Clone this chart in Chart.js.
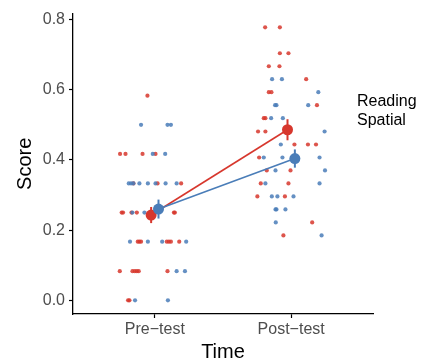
<!DOCTYPE html>
<html>
<head>
<meta charset="utf-8">
<script src="https://cdn.jsdelivr.net/npm/chart.js@4.4.1/dist/chart.umd.min.js"></script>
<style>
  html, body { margin: 0; padding: 0; background: #fff; }
</style>
</head>
<body>
<canvas id="scoreChart" width="428" height="364"></canvas>
<script>
// categories / labels
const timeLabels = ['Pre\u2212test', 'Post\u2212test'];
const groupNames = ['Reading', 'Spatial'];
const yTicks = [0, 0.2, 0.4, 0.6, 0.8];

// individual scores (jitter = horizontal offset from the category)
const readingPreScore = [0.583,
  0.417, 0.417, 0.417, 0.417,
  0.333, 0.333, 0.333,
  0.25, 0.25, 0.25, 0.25, 0.25, 0.25,
  0.167, 0.167, 0.167, 0.167, 0.167, 0.167, 0.167,
  0.083, 0.083, 0.083, 0.083, 0.083, 0.083,
  0, 0];
const readingPreJitter = [-0.054,
  -0.255, -0.215, -0.090, 0.005,
  -0.157, 0.020, 0.193,
  -0.243, -0.233, -0.171, -0.132, 0.140, 0.147,
  -0.125, -0.113, -0.101, 0.088, 0.103, 0.118, 0.179,
  -0.257, -0.164, -0.147, -0.132, -0.118, 0.093,
  -0.196, -0.186];

const spatialPreScore = [0.5, 0.5, 0.5,
  0.417, 0.417,
  0.333, 0.333, 0.333, 0.333, 0.333, 0.333, 0.333, 0.333,
  0.25, 0.25,
  0.167, 0.167, 0.167, 0.167,
  0.083, 0.083,
  0, 0];
const spatialPreJitter = [-0.101, 0.093, 0.118,
  -0.015, 0.076,
  -0.191, -0.174, -0.157, -0.113, -0.051, 0.005, 0.079, 0.160,
  -0.164, -0.076,
  -0.182, -0.051, 0.054, 0.230,
  0.160, 0.221,
  -0.145, 0.096];

const readingPostScore = [0.778, 0.778,
  0.704, 0.704,
  0.667, 0.667,
  0.630,
  0.593, 0.593,
  0.556,
  0.519, 0.519,
  0.481, 0.481,
  0.444, 0.444, 0.444,
  0.407,
  0.370, 0.370,
  0.333, 0.333,
  0.296, 0.296,
  0.222,
  0.185];
const readingPostJitter = [-0.191, -0.083,
  -0.083, -0.020,
  -0.164, -0.086,
  0.110,
  -0.164, -0.145,
  0.189,
  -0.201, -0.189,
  -0.243, -0.189,
  0.024, 0.123, 0.182,
  -0.235,
  -0.179, -0.005,
  -0.223, -0.020,
  -0.248, -0.046,
  0.154,
  -0.057];

const spatialPostScore = [0.630, 0.630,
  0.593,
  0.556, 0.556, 0.556,
  0.519, 0.519,
  0.481,
  0.444,
  0.407, 0.407, 0.407,
  0.370, 0.370,
  0.333, 0.333,
  0.296, 0.296, 0.296,
  0.259, 0.259, 0.259,
  0.222,
  0.185];
const spatialPostJitter = [-0.140, -0.068,
  0.199,
  -0.118, -0.108, 0.125,
  -0.147, -0.061,
  0.245,
  -0.076,
  -0.201, -0.064, 0.208,
  -0.115, 0.248,
  -0.189, 0.208,
  -0.142, -0.101, 0.017,
  -0.115, -0.108, -0.042,
  -0.113,
  0.223];

// group means and standard errors (Pre, Post)
const readingMean = [0.243, 0.486];
const readingSE = [0.023, 0.030];
const spatialMean = [0.260, 0.404];
const spatialSE = [0.027, 0.026];
const dodge = 0.027;

const redColor = '#d7372d';
const blueColor = '#4a7db8';

function jittered(scores, jitter, category) {
  return scores.map((v, i) => ({ x: category + jitter[i], y: v }));
}

function meanPoints(means, shift) {
  return means.map((v, i) => ({ x: i + 1 + shift, y: v }));
}

// vertical error bars drawn just before the mean points
const errorBars = {
  id: 'errorBars',
  beforeDatasetDraw(chart, args) {
    const ds = chart.data.datasets[args.index];
    if (!ds.errors) return;
    const xs = chart.scales.x, ys = chart.scales.y;
    const ctx = chart.ctx;
    ctx.save();
    ctx.strokeStyle = ds.borderColor;
    ctx.lineWidth = 2;
    ds.data.forEach((p, i) => {
      const px = xs.getPixelForValue(p.x);
      ctx.beginPath();
      ctx.moveTo(px, ys.getPixelForValue(p.y - ds.errors[i]));
      ctx.lineTo(px, ys.getPixelForValue(p.y + ds.errors[i]));
      ctx.stroke();
    });
    ctx.restore();
  }
};

// ggplot style legend: labels only, no keys
const textLegend = {
  id: 'textLegend',
  afterDraw(chart) {
    const ctx = chart.ctx;
    ctx.save();
    ctx.fillStyle = '#000';
    ctx.font = '16px "Liberation Sans", Arial, sans-serif';
    ctx.textBaseline = 'middle';
    groupNames.forEach((name, i) => {
      ctx.fillText(name, chart.chartArea.right - 16, 102 + i * 19);
    });
    ctx.restore();
  }
};

const fontFamily = '"Liberation Sans", Arial, sans-serif';

new Chart(document.getElementById('scoreChart'), {
  type: 'scatter',
  data: {
    datasets: [
      {
        label: groupNames[0] + ' scores',
        data: jittered(readingPreScore, readingPreJitter, 1)
          .concat(jittered(readingPostScore, readingPostJitter, 2)),
        backgroundColor: 'rgba(215, 55, 45, 0.85)',
        borderWidth: 0,
        pointRadius: 2.1,
        order: 4
      },
      {
        label: groupNames[1] + ' scores',
        data: jittered(spatialPreScore, spatialPreJitter, 1)
          .concat(jittered(spatialPostScore, spatialPostJitter, 2)),
        backgroundColor: 'rgba(74, 125, 184, 0.85)',
        borderWidth: 0,
        pointRadius: 2.1,
        order: 3
      },
      {
        label: groupNames[0],
        data: meanPoints(readingMean, -dodge),
        errors: readingSE,
        showLine: true,
        borderColor: redColor,
        backgroundColor: redColor,
        borderWidth: 1.6,
        pointRadius: 5.5,
        pointBorderWidth: 0,
        order: 2
      },
      {
        label: groupNames[1],
        data: meanPoints(spatialMean, dodge),
        errors: spatialSE,
        showLine: true,
        borderColor: blueColor,
        backgroundColor: blueColor,
        borderWidth: 1.6,
        pointRadius: 5.5,
        pointBorderWidth: 0,
        order: 1
      }
    ]
  },
  options: {
    responsive: false,
    animation: false,
    devicePixelRatio: 1,
    layout: { padding: { left: 0, right: 55, top: 9, bottom: 0 } },
    plugins: {
      legend: { display: false },
      tooltip: { enabled: false }
    },
    scales: {
      x: {
        type: 'linear',
        min: 0.4,
        max: 2.6,
        afterBuildTicks: s => { s.ticks = [{ value: 1 }, { value: 2 }]; },
        afterFit: s => { s.height = 50; },
        ticks: {
          callback: v => timeLabels[v - 1],
          color: '#4d4d4d',
          font: { family: fontFamily, size: 16 },
          padding: 2,
          maxRotation: 0
        },
        grid: {
          display: true,
          drawOnChartArea: false,
          drawTicks: true,
          tickLength: 4,
          tickWidth: 1.2,
          tickColor: '#000'
        },
        border: { display: true, color: '#000', width: 1.3 },
        title: {
          display: true,
          text: 'Time',
          color: '#000',
          font: { family: fontFamily, size: 20 },
          padding: 0
        }
      },
      y: {
        min: -0.039,
        max: 0.817,
        afterBuildTicks: s => { s.ticks = yTicks.map(v => ({ value: v })); },
        afterFit: s => { s.width = 73; },
        ticks: {
          callback: v => v.toFixed(1),
          color: '#4d4d4d',
          font: { family: fontFamily, size: 16 },
          padding: 4
        },
        grid: {
          display: true,
          drawOnChartArea: false,
          drawTicks: true,
          tickLength: 4,
          tickWidth: 1.2,
          tickColor: '#000'
        },
        border: { display: true, color: '#000', width: 1.3 },
        title: {
          display: true,
          text: 'Score',
          color: '#000',
          font: { family: fontFamily, size: 20 },
          padding: 13
        }
      }
    }
  },
  plugins: [errorBars, textLegend]
});
</script>
</body>
</html>
